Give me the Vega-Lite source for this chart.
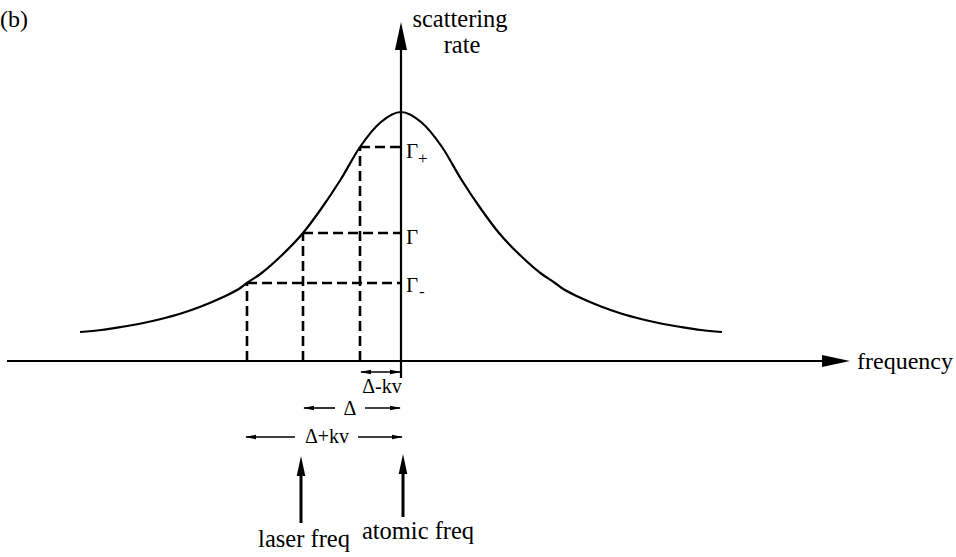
{
  "$schema": "https://vega.github.io/schema/vega-lite/v6.json",
  "width": 956,
  "height": 557,
  "padding": 0,
  "autosize": {"type": "fit", "contains": "padding"},
  "background": "white",
  "view": {"stroke": null},
  "config": {"text": {"font": "Liberation Serif", "color": "black"}},
  "datasets": {
    "curve": [
      {"x": -32.1, "y": 2.9}, {"x": -30, "y": 3.1}, {"x": -28, "y": 3.4}, {"x": -26, "y": 3.75},
      {"x": -24, "y": 4.2}, {"x": -22, "y": 4.75}, {"x": -20, "y": 5.45}, {"x": -18, "y": 6.3},
      {"x": -16, "y": 7.35}, {"x": -15.4, "y": 7.8}, {"x": -14, "y": 8.75}, {"x": -12, "y": 10.5},
      {"x": -9.8, "y": 12.8}, {"x": -8, "y": 15.2}, {"x": -6, "y": 18.2}, {"x": -4.1, "y": 21.4},
      {"x": -2, "y": 23.9}, {"x": 0, "y": 24.9},
      {"x": 2, "y": 23.9}, {"x": 4.1, "y": 21.4}, {"x": 6, "y": 18.2}, {"x": 8, "y": 15.2},
      {"x": 9.8, "y": 12.8}, {"x": 12, "y": 10.5}, {"x": 14, "y": 8.75}, {"x": 15.4, "y": 7.8},
      {"x": 16, "y": 7.35}, {"x": 18, "y": 6.3}, {"x": 20, "y": 5.45}, {"x": 22, "y": 4.75},
      {"x": 24, "y": 4.2}, {"x": 26, "y": 3.75}, {"x": 28, "y": 3.4}, {"x": 30, "y": 3.1},
      {"x": 32.1, "y": 2.9}
    ],
    "segments": [
      {"kind": "axis", "x": -39.4, "y": 0, "x2": 43, "y2": 0},
      {"kind": "axis", "x": 0, "y": -1.7, "x2": 0, "y2": 32},
      {"kind": "dash", "x": -4.1, "y": 21.4, "x2": 0, "y2": 21.4},
      {"kind": "dash", "x": -4.1, "y": 0, "x2": -4.1, "y2": 21.4},
      {"kind": "dash", "x": -9.8, "y": 12.8, "x2": 0, "y2": 12.8},
      {"kind": "dash", "x": -9.8, "y": 0, "x2": -9.8, "y2": 12.8},
      {"kind": "dash", "x": -15.4, "y": 7.8, "x2": 0, "y2": 7.8},
      {"kind": "dash", "x": -15.4, "y": 0, "x2": -15.4, "y2": 7.8},
      {"kind": "dim", "x": -4.0, "y": -1.1, "x2": -0.1, "y2": -1.1},
      {"kind": "dim", "x": -9.7, "y": -4.7, "x2": -6.6, "y2": -4.7},
      {"kind": "dim", "x": -3.6, "y": -4.7, "x2": -0.1, "y2": -4.7},
      {"kind": "dim", "x": -15.5, "y": -7.6, "x2": -10.6, "y2": -7.6},
      {"kind": "dim", "x": -4.3, "y": -7.6, "x2": 0.1, "y2": -7.6},
      {"kind": "pointer", "x": -10.0, "y": -16.2, "x2": -10.0, "y2": -10.5},
      {"kind": "pointer", "x": 0.2, "y": -15.6, "x2": 0.2, "y2": -10.3}
    ],
    "heads": [
      {"kind": "axis", "x": 44.9, "y": 0, "dir": "right"},
      {"kind": "axis", "x": 0, "y": 33.9, "dir": "up"},
      {"kind": "dim", "x": -4.1, "y": -1.1, "dir": "left"},
      {"kind": "dim", "x": 0, "y": -1.1, "dir": "right"},
      {"kind": "dim", "x": -9.8, "y": -4.7, "dir": "left"},
      {"kind": "dim", "x": 0, "y": -4.7, "dir": "right"},
      {"kind": "dim", "x": -15.6, "y": -7.6, "dir": "left"},
      {"kind": "dim", "x": 0.2, "y": -7.6, "dir": "right"},
      {"kind": "pointer", "x": -10.0, "y": -9.5, "dir": "up"},
      {"kind": "pointer", "x": 0.2, "y": -9.3, "dir": "up"}
    ],
    "labels": [
      {"kind": "lead", "x": -40.1, "y": 34.1, "text": "(b)"},
      {"kind": "lead", "x": 45.6, "y": -0.1, "text": "frequency"},
      {"kind": "caption", "x": 5.9, "y": 34.1, "text": "scattering"},
      {"kind": "caption", "x": 6.1, "y": 31.5, "text": "rate"},
      {"kind": "caption", "x": -9.7, "y": -17.9, "text": "laser freq"},
      {"kind": "caption", "x": 1.7, "y": -17.1, "text": "atomic freq"},
      {"kind": "level", "x": 0.5, "y": 20.9, "text": "Γ"},
      {"kind": "level", "x": 0.5, "y": 12.3, "text": "Γ"},
      {"kind": "level", "x": 0.5, "y": 7.5, "text": "Γ"},
      {"kind": "sub", "x": 1.7, "y": 20.2, "text": "+"},
      {"kind": "sub", "x": 1.8, "y": 6.9, "text": "-"},
      {"kind": "detuning", "x": -1.9, "y": -2.6, "text": "Δ-kv"},
      {"kind": "detuning", "x": -5.1, "y": -4.8, "text": "Δ"},
      {"kind": "detuning", "x": -7.4, "y": -7.6, "text": "Δ+kv"}
    ]
  },
  "encoding": {
    "x": {"field": "x", "type": "quantitative", "axis": null,
          "scale": {"domain": [-40.1, 55.5], "nice": false, "zero": false}},
    "y": {"field": "y", "type": "quantitative", "axis": null,
          "scale": {"domain": [-19.6, 36.1], "nice": false, "zero": false}}
  },
  "layer": [
    {
      "data": {"name": "curve"},
      "mark": {"type": "line", "color": "black", "strokeWidth": 2.2, "interpolate": "monotone"},
      "encoding": {}
    },
    {
      "data": {"name": "segments"},
      "transform": [{"filter": "datum.kind === 'axis'"}],
      "mark": {"type": "rule", "color": "black", "strokeWidth": 2.2},
      "encoding": {"x2": {"field": "x2"}, "y2": {"field": "y2"}}
    },
    {
      "data": {"name": "segments"},
      "transform": [{"filter": "datum.kind === 'dash'"}],
      "mark": {"type": "rule", "color": "black", "strokeWidth": 2.6, "strokeDash": [10, 5]},
      "encoding": {"x2": {"field": "x2"}, "y2": {"field": "y2"}}
    },
    {
      "data": {"name": "segments"},
      "transform": [{"filter": "datum.kind === 'dim'"}],
      "mark": {"type": "rule", "color": "black", "strokeWidth": 1.6},
      "encoding": {"x2": {"field": "x2"}, "y2": {"field": "y2"}}
    },
    {
      "data": {"name": "segments"},
      "transform": [{"filter": "datum.kind === 'pointer'"}],
      "mark": {"type": "rule", "color": "black", "strokeWidth": 3},
      "encoding": {"x2": {"field": "x2"}, "y2": {"field": "y2"}}
    },
    {
      "data": {"name": "heads"},
      "transform": [{"filter": "datum.kind === 'axis'"}],
      "mark": {"type": "point", "filled": true, "color": "black", "opacity": 1, "strokeWidth": 0, "size": 784},
      "encoding": {"shape": {"field": "dir", "type": "nominal", "legend": null,
                             "scale": {"domain": ["up", "right", "left"],
                                       "range": ["M0,0L0.43,2L-0.43,2Z", "M0,0L-2,0.43L-2,-0.43Z", "M0,0L2,0.43L2,-0.43Z"]}}}
    },
    {
      "data": {"name": "heads"},
      "transform": [{"filter": "datum.kind === 'pointer'"}],
      "mark": {"type": "point", "filled": true, "color": "black", "opacity": 1, "strokeWidth": 0, "size": 400},
      "encoding": {"shape": {"field": "dir", "type": "nominal", "legend": null,
                             "scale": {"domain": ["up", "right", "left"],
                                       "range": ["M0,0L0.7,2L-0.7,2Z", "M0,0L-2,0.7L-2,-0.7Z", "M0,0L2,0.7L2,-0.7Z"]}}}
    },
    {
      "data": {"name": "heads"},
      "transform": [{"filter": "datum.kind === 'dim'"}],
      "mark": {"type": "point", "filled": true, "color": "black", "opacity": 1, "strokeWidth": 0, "size": 121},
      "encoding": {"shape": {"field": "dir", "type": "nominal", "legend": null,
                             "scale": {"domain": ["up", "right", "left"],
                                       "range": ["M0,0L0.6,2L-0.6,2Z", "M0,0L-2,0.6L-2,-0.6Z", "M0,0L2,0.6L2,-0.6Z"]}}}
    },
    {
      "data": {"name": "labels"},
      "transform": [{"filter": "datum.kind === 'lead'"}],
      "mark": {"type": "text", "align": "left", "baseline": "middle", "fontSize": 24},
      "encoding": {"text": {"field": "text"}}
    },
    {
      "data": {"name": "labels"},
      "transform": [{"filter": "datum.kind === 'caption'"}],
      "mark": {"type": "text", "align": "center", "baseline": "middle", "fontSize": 24.5},
      "encoding": {"text": {"field": "text"}}
    },
    {
      "data": {"name": "labels"},
      "transform": [{"filter": "datum.kind === 'level'"}],
      "mark": {"type": "text", "align": "left", "baseline": "middle", "fontSize": 21},
      "encoding": {"text": {"field": "text"}}
    },
    {
      "data": {"name": "labels"},
      "transform": [{"filter": "datum.kind === 'sub'"}],
      "mark": {"type": "text", "align": "left", "baseline": "middle", "fontSize": 17},
      "encoding": {"text": {"field": "text"}}
    },
    {
      "data": {"name": "labels"},
      "transform": [{"filter": "datum.kind === 'detuning'"}],
      "mark": {"type": "text", "align": "center", "baseline": "middle", "fontSize": 20},
      "encoding": {"text": {"field": "text"}}
    }
  ]
}
